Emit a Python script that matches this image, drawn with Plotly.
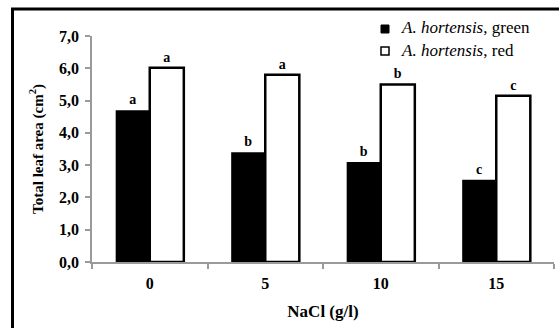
import plotly.graph_objects as go

categories = ["0", "5", "10", "15"]
green_values = [4.7, 3.4, 3.1, 2.55]
red_values = [6.02, 5.8, 5.5, 5.15]
green_letters = ["a", "b", "b", "c"]
red_letters = ["a", "a", "b", "c"]
legend_names = ["<i>A. hortensis</i>, green", "<i>A. hortensis</i>, red"]
y_ticks = [0, 1, 2, 3, 4, 5, 6, 7]

FONT = "Liberation Serif, Times New Roman, serif"
W, H = 559, 328
L, R, T, B = 92, 5, 36, 66
PW, PH = W - L - R, H - T - B

def px(x):
    return (x - L) / PW

def py(y):
    return (H - B - y) / PH

fig = go.Figure()
fig.add_trace(go.Bar(
    x=categories, y=green_values, name=legend_names[0],
    marker=dict(color="black", line=dict(color="black", width=0)),
    text=green_letters, textposition="outside", cliponaxis=False,
    textfont=dict(family=FONT, size=14, color="black", weight="bold"),
    showlegend=False,
))
fig.add_trace(go.Bar(
    x=categories, y=red_values, name=legend_names[1],
    marker=dict(color="white", line=dict(color="black", width=2.5)),
    text=red_letters, textposition="outside", cliponaxis=False,
    textfont=dict(family=FONT, size=14, color="black", weight="bold"),
    showlegend=False,
))

axis_gray = "#9a9a9a"
fig.update_layout(
    width=W, height=H, autosize=False,
    margin=dict(l=L, r=R, t=T, b=B, autoexpand=False),
    paper_bgcolor="white", plot_bgcolor="white",
    separators=",.",
    barmode="group", bargap=0.41, bargroupgap=0,
    font=dict(family=FONT, color="black"),
    showlegend=False,
    xaxis=dict(
        automargin=False,
        showline=True, linecolor=axis_gray, linewidth=1.5,
        ticks="outside", tickson="boundaries", ticklen=5, tickcolor=axis_gray, tickwidth=1.5,
        ticklabelstandoff=6,
        tickfont=dict(family=FONT, size=16, color="black", weight="bold"),
        title=dict(text="NaCl (g/l)", font=dict(family=FONT, size=17, color="black", weight="bold"), standoff=14),
        showgrid=False, zeroline=False,
    ),
    yaxis=dict(
        automargin=False,
        range=[0, 7], tickvals=y_ticks, tickformat=".1f",
        showline=True, linecolor=axis_gray, linewidth=1.5,
        ticks="outside", ticklen=5, tickcolor=axis_gray, tickwidth=1.5,
        ticklabelstandoff=3,
        tickfont=dict(family=FONT, size=16, color="black", weight="bold"),
        title=dict(text="Total leaf area (cm<sup>2</sup>)", font=dict(family=FONT, size=15, color="black", weight="bold"), standoff=12),
        showgrid=False, zeroline=False,
    ),
)

# outer frame (left and top edges visible in the crop)
fig.add_shape(type="line", xref="paper", yref="paper",
              x0=px(12.5), x1=px(12.5), y0=py(H), y1=py(9),
              line=dict(color="black", width=3))
fig.add_shape(type="line", xref="paper", yref="paper",
              x0=px(11), x1=px(W), y0=py(9), y1=py(9),
              line=dict(color="black", width=3))

# legend squares and labels
fig.add_shape(type="rect", xref="paper", yref="paper",
              x0=px(381), x1=px(389), y0=py(33), y1=py(25),
              line=dict(color="black", width=1), fillcolor="black")
fig.add_shape(type="rect", xref="paper", yref="paper",
              x0=px(381), x1=px(389), y0=py(55), y1=py(47),
              line=dict(color="black", width=1.5), fillcolor="white")
fig.add_annotation(xref="paper", yref="paper", x=px(399), y=py(28), xanchor="left", yanchor="middle",
                   text=legend_names[0], showarrow=False, font=dict(family=FONT, size=17, color="black"))
fig.add_annotation(xref="paper", yref="paper", x=px(399), y=py(50), xanchor="left", yanchor="middle",
                   text=legend_names[1], showarrow=False, font=dict(family=FONT, size=17, color="black"))

page_fix = "document.body.style.margin='0';document.documentElement.style.overflow='hidden';document.body.style.overflow='hidden';"
fig.write_html("out.html", post_script=page_fix, config={"displayModeBar": False})
